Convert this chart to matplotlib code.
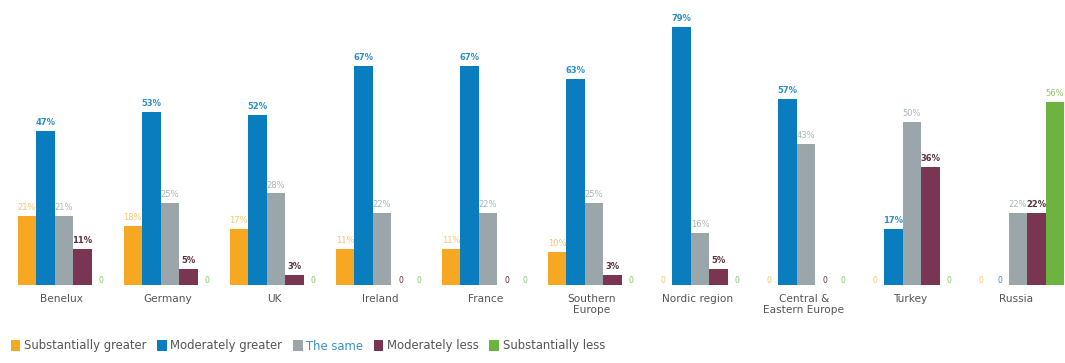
import matplotlib
matplotlib.use("Agg")
import matplotlib.pyplot as plt
import numpy as np
from matplotlib.patches import Patch

regions = ["Benelux", "Germany", "UK", "Ireland", "France", "Southern\nEurope",
           "Nordic region", "Central &\nEastern Europe", "Turkey", "Russia"]

series_names = ["Substantially greater", "Moderately greater", "The same",
                "Moderately less", "Substantially less"]

substantially_greater = [21, 18, 17, 11, 11, 10, 0, 0, 0, 0]
moderately_greater = [47, 53, 52, 67, 67, 63, 79, 57, 17, 0]
the_same = [21, 25, 28, 22, 22, 25, 16, 43, 50, 22]
moderately_less = [11, 5, 3, 0, 0, 3, 5, 0, 36, 22]
substantially_less = [0, 0, 0, 0, 0, 0, 0, 0, 0, 56]

series = [substantially_greater, moderately_greater, the_same,
          moderately_less, substantially_less]
colors = ["#F6A823", "#0A7DBE", "#9AA6A9", "#7A3552", "#6DB33F"]
label_colors = ["#F8C66E", "#2C8FC9", "#A9B4B8", "#5A3040", "#8CC466"]

W, H = 1065, 363
fig = plt.figure(figsize=(W / 100, H / 100), dpi=100)
base_px = 285
px_per_pct = 3.27
ax = fig.add_axes([0, (H - base_px) / H, 1, base_px / H])
group_px = 106.0
first_px = 64.0
ax.set_xlim(-first_px / group_px, (W - first_px) / group_px)
ax.set_ylim(0, base_px / px_per_pct)
ax.axis("off")

x = np.arange(len(regions))
bw = 0.175
for k, (vals, c, lc) in enumerate(zip(series, colors, label_colors)):
    pos = x + (k - 2) * bw
    ax.bar(pos, vals, width=bw, color=c, edgecolor="none", zorder=2 + (k % 2))
    for xi, v in zip(pos, vals):
        if v == 0:
            ax.text(xi, 1.3, "0", ha="center", va="center", fontsize=5.5,
                    color=lc, zorder=5)
        else:
            ax.text(xi, v + 1.2, f"{v}%", ha="center", va="bottom",
                    fontsize=6, color=lc,
                    fontweight="bold" if k in (1, 3) else "normal", zorder=5)

# region names under each group
for xi, name in zip(x, regions):
    ax.text(xi - 0.02, -2.6, name, ha="center", va="top", fontsize=7.6,
            color="#555555", linespacing=1.2, clip_on=False)

# legend row along the bottom
handles = [Patch(facecolor=c, edgecolor="none") for c in colors]
leg = fig.legend(handles, series_names, loc="lower left",
                 bbox_to_anchor=(0.0, 0.0), ncol=5, frameon=False,
                 fontsize=8.4, handlelength=0.85, handleheight=0.95,
                 handletextpad=0.3, columnspacing=0.9, borderaxespad=0.5)
for t in leg.get_texts():
    t.set_color("#555555")
leg.get_texts()[2].set_color("#3A8FD0")

fig.savefig("out.png", dpi=100)
